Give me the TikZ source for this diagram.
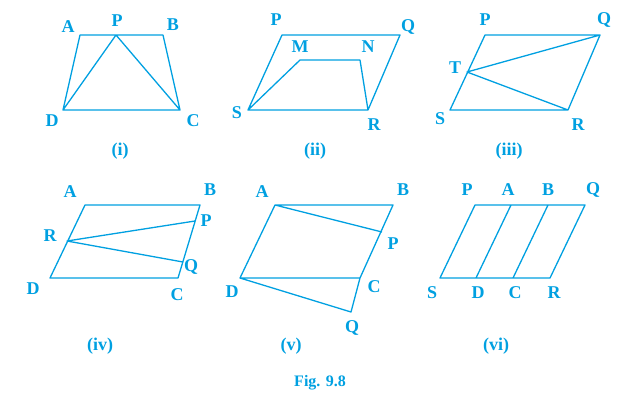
\documentclass[tikz,border=0pt]{standalone}
\usepackage{fontspec}
\setmainfont{Liberation Serif}
\definecolor{fc}{RGB}{0,160,225}
\begin{document}
\begin{tikzpicture}[x=1pt,y=-1pt,line width=1.3pt,fc,line join=round,
 lb/.style={font=\bfseries\fontsize{18}{18}\selectfont,text=fc,inner sep=0pt}]
\useasboundingbox (0,0) rectangle (639,413);
% (i)
\coordinate (A1) at (80,35);\coordinate (B1) at (163,35);\coordinate (C1) at (180,110);\coordinate (D1) at (63,110);\coordinate (P1) at (116,35);
\draw (A1)--(B1)--(C1)--(D1)--cycle (D1)--(P1)--(C1);
\node[lb] (lA1) at (68,27){A};\node[lb] (lP1) at (117,21){P};\node[lb] (lB1) at (173,25){B};
\node[lb] (lD1) at (52,121){D};\node[lb] (lC1) at (193,121){C};\node[lb] (t1) at (120,151){(i)};
% (ii)
\coordinate (P2) at (282,35);\coordinate (Q2) at (400,35);\coordinate (R2) at (368,110);\coordinate (S2) at (248,110);
\coordinate (M2) at (300,60);\coordinate (N2) at (360,60);
\draw (P2)--(Q2)--(R2)--(S2)--cycle (S2)--(M2)--(N2)--(R2);
\node[lb] (lP2) at (276,20){P};\node[lb] (lQ2) at (408,27){Q};\node[lb] (lM2) at (300,47){M};\node[lb] (lN2) at (368,47){N};
\node[lb] (lS2) at (237,113){S};\node[lb] (lR2) at (374,125){R};\node[lb] (t2) at (315,151){(ii)};
% (iii)
\coordinate (P3) at (485,35);\coordinate (Q3) at (600,35);\coordinate (R3) at (568,110);\coordinate (S3) at (450,110);\coordinate (T3) at (467,72);
\draw (P3)--(Q3)--(R3)--(S3)--cycle (Q3)--(T3)--(R3);
\node[lb] (lP3) at (485,20){P};\node[lb] (lQ3) at (604,20){Q};\node[lb] (lT3) at (455,68){T};
\node[lb] (lS3) at (440,119){S};\node[lb] (lR3) at (578,125){R};\node[lb] (t3) at (509,151){(iii)};
% (iv)
\coordinate (A4) at (85,205);\coordinate (B4) at (200,205);\coordinate (C4) at (178,278);\coordinate (D4) at (50,278);
\coordinate (R4) at (67,241);\coordinate (P4) at (195,221);\coordinate (Q4) at (183,262);
\draw (A4)--(B4)--(C4)--(D4)--cycle (P4)--(R4)--(Q4);
\node[lb] (lA4) at (70,192){A};\node[lb] (lB4) at (210,190){B};\node[lb] (lR4) at (50,236){R};\node[lb] (lP4) at (206,221){P};
\node[lb] (lQ4) at (191,267){Q};\node[lb] (lD4) at (33,289){D};\node[lb] (lC4) at (177,295){C};\node[lb] (t4) at (100,346){(iv)};
% (v)
\coordinate (A5) at (275,205);\coordinate (B5) at (393,205);\coordinate (C5) at (360,278);\coordinate (D5) at (240,278);
\coordinate (P5) at (382,232);\coordinate (Q5) at (351,312);
\draw (A5)--(B5)--(C5)--(D5)--cycle (A5)--(P5) (D5)--(Q5)--(C5);
\node[lb] (lA5) at (262,192){A};\node[lb] (lB5) at (403,190){B};\node[lb] (lP5) at (393,244){P};\node[lb] (lD5) at (232,292){D};
\node[lb] (lC5) at (374,287){C};\node[lb] (lQ5) at (352,328){Q};\node[lb] (t5) at (291,346){(v)};
% (vi)
\coordinate (P6) at (475,205);\coordinate (A6) at (511,205);\coordinate (B6) at (548,205);\coordinate (Q6) at (585,205);
\coordinate (S6) at (440,278);\coordinate (D6) at (476,278);\coordinate (C6) at (513,278);\coordinate (R6) at (550,278);
\draw (P6)--(Q6)--(R6)--(S6)--cycle (A6)--(D6) (B6)--(C6);
\node[lb] (lP6) at (467,190){P};\node[lb] (lA6) at (508,190){A};\node[lb] (lB6) at (548,190){B};\node[lb] (lQ6) at (593,190){Q};
\node[lb] (lS6) at (432,293){S};\node[lb] (lD6) at (478,293){D};\node[lb] (lC6) at (515,293){C};\node[lb] (lR6) at (554,293){R};
\node[lb] (t6) at (496,346){(vi)};
\node[lb,font=\bfseries\fontsize{16}{16}\selectfont] (fig) at (320,383){Fig. 9.8};
\end{tikzpicture}
\end{document}
